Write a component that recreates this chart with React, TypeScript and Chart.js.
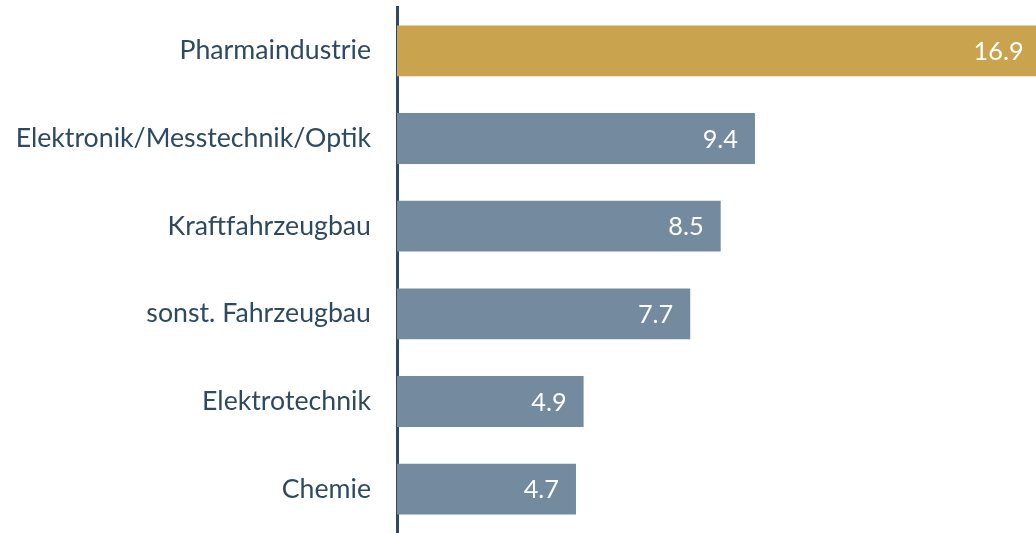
import React, { useEffect, useRef } from "react";
import { Chart, registerables } from "chart.js";

Chart.register(...registerables);

const categories = [
  "Pharmaindustrie",
  "Elektronik/Messtechnik/Optik",
  "Kraftfahrzeugbau",
  "sonst. Fahrzeugbau",
  "Elektrotechnik",
  "Chemie",
];
const values = [16.9, 9.4, 8.5, 7.7, 4.9, 4.7];
const barColors = ["#C9A34E", "#748A9E", "#748A9E", "#748A9E", "#748A9E", "#748A9E"];

const FONT = "Lato";

function fitSize(text: string, target: number, weight = "normal") {
  const c = document.createElement("canvas").getContext("2d")!;
  c.font = `${weight} 100px ${FONT}`;
  const w = c.measureText(text).width;
  return Math.round((100 * target) / w * 10) / 10;
}

const valueLabels = {
  id: "valueLabels",
  afterDatasetsDraw(chart: any, _args: any, opts: any) {
    const ctx = chart.ctx;
    const meta = chart.getDatasetMeta(0);
    ctx.save();
    ctx.fillStyle = "#FFFFFF";
    ctx.font = `${opts.size}px ${FONT}`;
    ctx.textAlign = "right";
    ctx.textBaseline = "middle";
    meta.data.forEach((bar: any, i: number) => {
      const v = chart.data.datasets[0].data[i];
      ctx.fillText(v.toFixed(1), bar.x - 17, bar.y + 1);
    });
    ctx.restore();
  },
};

export default function App() {
  const ref = useRef<HTMLCanvasElement>(null);
  useEffect(() => {
    const catSize = fitSize("Elektronik/Messtechnik/Optik", 356);
    const valSize = fitSize("16.9", 50);
    const chart = new Chart(ref.current!, {
      type: "bar",
      data: {
        labels: categories,
        datasets: [
          {
            data: values,
            backgroundColor: barColors,
            borderWidth: 0,
            barPercentage: 0.58,
            categoryPercentage: 1,
          },
        ],
      },
      plugins: [valueLabels],
      options: {
        indexAxis: "y",
        animation: false,
        responsive: false,
        maintainAspectRatio: false,
        layout: { padding: { top: 7, right: 0, bottom: 0, left: 0 } },
        plugins: {
          legend: { display: false },
          tooltip: { enabled: false },
          valueLabels: { size: valSize },
        } as any,
        scales: {
          x: {
            display: false,
            min: 0,
            max: 16.78,
          },
          y: {
            grid: { display: false, drawTicks: false },
            border: { display: true, color: "#2C4A68", width: 3 },
            ticks: {
              color: "#2E4A62",
              font: { family: FONT, size: catSize },
              padding: 26,
            },
            afterFit(scale: any) {
              scale.width = 397;
              scale.paddingTop = 0;
              scale.paddingBottom = 0;
            },
          },
        },
      },
    });
    return () => chart.destroy();
  }, []);
  return (
    <div style={{ position: "fixed", left: 0, top: 0, width: 1036, height: 533, background: "#fff" }}>
      <canvas ref={ref} width={1036} height={533} style={{ display: "block" }} />
    </div>
  );
}
